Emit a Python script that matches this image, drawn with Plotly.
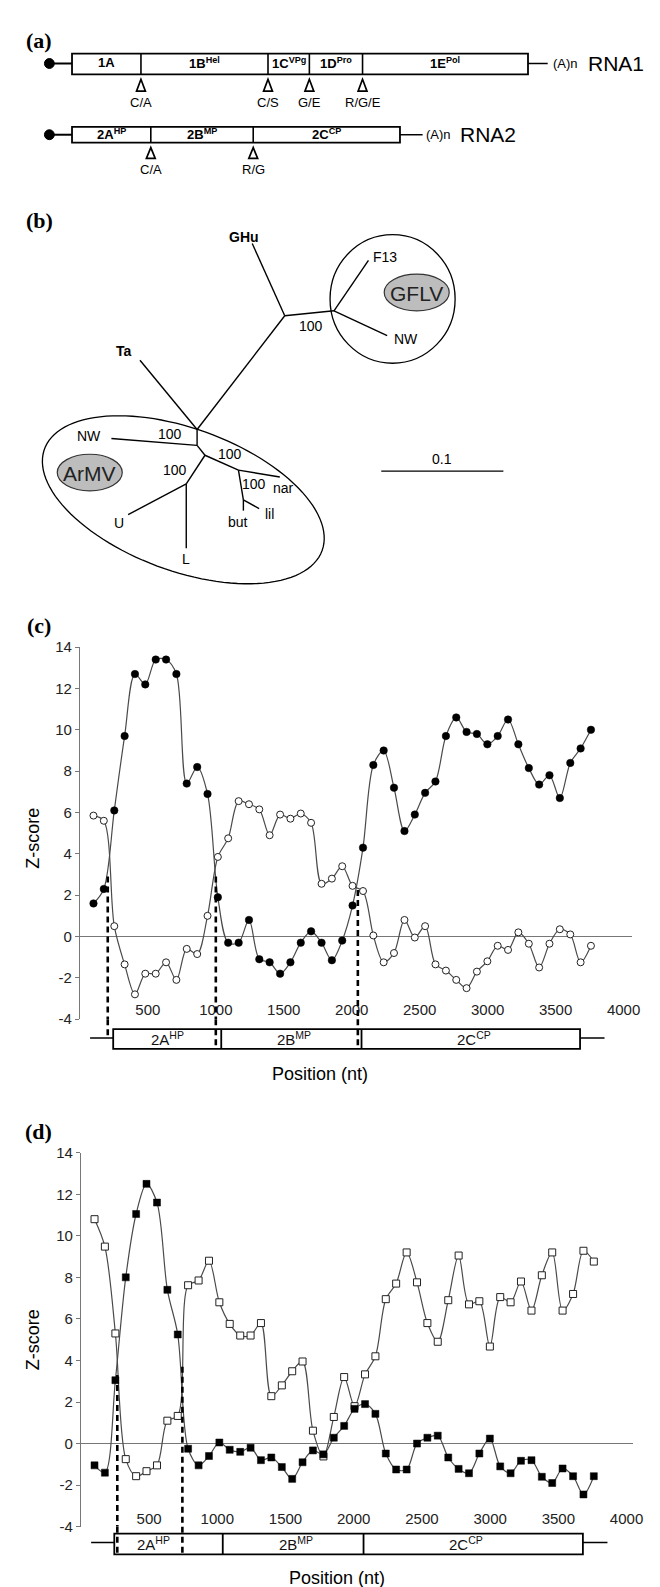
import numpy as np
import plotly.graph_objects as go

W, H = 660, 1587
SANS = "Liberation Sans, Arial, sans-serif"
SERIF = "Liberation Serif, Times New Roman, serif"

# ---------------- data ----------------
positions = [100, 176, 253, 329, 405, 481, 558, 634, 710, 786, 863, 939, 1015,
             1091, 1168, 1244, 1320, 1396, 1473, 1549, 1625, 1701, 1778, 1854,
             1930, 2006, 2083, 2159, 2235, 2311, 2388, 2464, 2540, 2616, 2693,
             2769, 2845, 2921, 2998, 3074, 3150, 3226, 3303, 3379, 3455, 3531,
             3608, 3684, 3760]

c_filled = [1.6, 2.3, 6.1, 9.7, 12.7, 12.2, 13.4, 13.4, 12.7, 7.4, 8.2, 6.9, 1.9,
            -0.3, -0.3, 0.8, -1.1, -1.25, -1.8, -1.25, -0.3, 0.25, -0.3, -1.15,
            -0.2, 1.5, 4.3, 8.3, 9.0, 7.2, 5.1, 5.9, 6.95, 7.5, 9.7, 10.6, 9.9,
            9.8, 9.3, 9.7, 10.5, 9.3, 8.15, 7.35, 7.8, 6.7, 8.4, 9.1, 10.0]
c_open = [5.85, 5.6, 0.5, -1.35, -2.8, -1.8, -1.8, -1.25, -2.1, -0.6, -0.85, 1.0,
          3.85, 4.75, 6.55, 6.4, 6.15, 4.9, 5.9, 5.7, 5.95, 5.5, 2.55, 2.8, 3.4,
          2.45, 2.2, 0.05, -1.25, -0.8, 0.8, -0.05, 0.5, -1.35, -1.65, -2.1, -2.5,
          -1.7, -1.2, -0.45, -0.65, 0.2, -0.35, -1.5, -0.35, 0.35, 0.1, -1.25, -0.45]

d_filled = [-1.05, -1.4, 3.05, 8.0, 11.05, 12.5, 11.6, 7.4, 5.25, -0.25, -1.05,
            -0.6, 0.05, -0.3, -0.4, -0.2, -0.8, -0.67, -1.13, -1.7, -0.9, -0.33,
            -0.52, 0.28, 0.85, 1.67, 1.9, 1.43, -0.48, -1.25, -1.25, 0.0, 0.28,
            0.38, -0.67, -1.22, -1.43, -0.48, 0.24, -1.1, -1.43, -0.83, -0.8,
            -1.6, -1.9, -1.2, -1.57, -2.45, -1.57]
d_open = [10.8, 9.48, 5.3, -0.75, -1.57, -1.33, -1.05, 1.1, 1.33, 7.62, 7.85, 8.8,
          6.8, 5.76, 5.2, 5.2, 5.8, 2.28, 2.8, 3.48, 3.95, 0.62, -0.62, 1.28, 3.2,
          1.8, 3.33, 4.2, 6.95, 7.7, 9.2, 7.76, 5.8, 4.9, 6.9, 9.05, 6.7, 6.85,
          4.67, 7.05, 6.8, 7.8, 6.4, 8.1, 9.2, 6.4, 7.2, 9.28, 8.76]

x_tick_vals = [500, 1000, 1500, 2000, 2500, 3000, 3500, 4000]
x_tick_text = ["500", "1000", "1500", "2000", "2500", "3000", "3500", "4000"]
y_tick_vals = [-4, -2, 0, 2, 4, 6, 8, 10, 12, 14]
y_tick_text = ["-4", "-2", "0", "2", "4", "6", "8", "10", "12", "14"]

# RNA2 genome map (nt)
rna2_bounds = [245, 1040, 2072, 3680]
rna2_utr = [75, 3860]
rna2_names = ["2A<sup>HP</sup>", "2B<sup>MP</sup>", "2C<sup>CP</sup>"]
c_name_pos = [645, 1572, 2900]
d_name_pos = [530, 1580, 2823]

# recombination breakpoints (dashed lines)
c_break_pos = [205, 1000, 2045]
c_break_top = [2.9, 2.9, 2.25]
d_break_pos = [267, 744]
d_break_top = [3.3, 3.7]

# ---------------- helpers ----------------
def px(x):
    return x / W


def py(y):
    return 1 - y / H


shapes = []
annotations = []


def line(x0, y0, x1, y1, w=1.5, color="black", dash=None):
    shapes.append(dict(type="line", xref="paper", yref="paper",
                       x0=px(x0), y0=py(y0), x1=px(x1), y1=py(y1),
                       line=dict(color=color, width=w, dash=dash)))


def rect(x0, y0, x1, y1, w=1.8, fill="white"):
    shapes.append(dict(type="rect", xref="paper", yref="paper",
                       x0=px(x0), y0=py(y0), x1=px(x1), y1=py(y1),
                       line=dict(color="black", width=w), fillcolor=fill))


def oval(x0, y0, x1, y1, w=1.3, fill="rgba(0,0,0,0)", color="black"):
    shapes.append(dict(type="circle", xref="paper", yref="paper",
                       x0=px(x0), y0=py(y0), x1=px(x1), y1=py(y1),
                       line=dict(color=color, width=w), fillcolor=fill))


def text(x, y, s, size=12, family=SANS, xanchor="center", yanchor="middle",
         angle=0, color="black"):
    annotations.append(dict(xref="paper", yref="paper", x=px(x), y=py(y), text=s,
                            showarrow=False, xanchor=xanchor, yanchor=yanchor,
                            textangle=angle,
                            font=dict(size=size, family=family, color=color)))


def triangle(xc, ytop, ybot, hw=4.5):
    path = "M {} {} L {} {} L {} {} Z".format(px(xc), py(ytop), px(xc - hw), py(ybot),
                                              px(xc + hw), py(ybot))
    shapes.append(dict(type="path", xref="paper", yref="paper", path=path,
                       line=dict(color="black", width=1.7), fillcolor="white"))


# ---------------- panel (a): genome organisation ----------------
text(31, 24, "<b>(a)</b>", size=22, family=SERIF)

rna1_bounds_px = [65, 135, 264, 306, 360, 528]
rna1_labels = ["1A", "1B<sup>Hel</sup>", "1C<sup>VPg</sup>", "1D<sup>Pro</sup>", "1E<sup>Pol</sup>"]
rna1_cuts = ["C/A", "C/S", "G/E", "R/G/E"]
y1c, y1t, y1b = 47, 37, 58
line(42, y1c, rna1_bounds_px[0], y1c, w=2)
oval(37, y1c - 5, 47, y1c + 5, w=1, fill="black")
rect(rna1_bounds_px[0], y1t, rna1_bounds_px[-1], y1b)
for xb in rna1_bounds_px[1:-1]:
    line(xb, y1t, xb, y1b, w=1.6)
for i, lab in enumerate(rna1_labels):
    text((rna1_bounds_px[i] + rna1_bounds_px[i + 1]) / 2, 46, "<b>" + lab + "</b>", size=13)
line(rna1_bounds_px[-1], y1c, 548, y1c, w=1.5)
text(566, 47, "(A)n", size=13)
text(587, 47, "RNA1", size=21, xanchor="left")
for xb, lab in zip(rna1_bounds_px[1:-1], rna1_cuts):
    triangle(xb, 63, 75)
    text(xb, 86, lab, size=13)

rna2_bounds_px = [65, 145, 249, 398]
rna2_labels = ["2A<sup>HP</sup>", "2B<sup>MP</sup>", "2C<sup>CP</sup>"]
rna2_cuts = ["C/A", "R/G"]
y2c, y2t, y2b = 119, 111, 127
line(42, y2c, rna2_bounds_px[0], y2c, w=2)
oval(37, y2c - 5, 47, y2c + 5, w=1, fill="black")
rect(rna2_bounds_px[0], y2t, rna2_bounds_px[-1], y2b)
for xb in rna2_bounds_px[1:-1]:
    line(xb, y2t, xb, y2b, w=1.6)
for i, lab in enumerate(rna2_labels):
    text((rna2_bounds_px[i] + rna2_bounds_px[i + 1]) / 2, 118, "<b>" + lab + "</b>", size=13)
line(rna2_bounds_px[-1], y2c, 421, y2c, w=1.5)
text(437, 119, "(A)n", size=13)
text(457, 119, "RNA2", size=21, xanchor="left")
for xb, lab in zip(rna2_bounds_px[1:-1], rna2_cuts):
    triangle(xb, 132, 143)
    text(xb, 154, lab, size=13)

# ---------------- panel (b): tree ----------------
text(32, 206, "<b>(b)</b>", size=22, family=SERIF)
tree_edges = [
    ((248, 229), (281, 302)), ((281, 302), (331, 297)), ((331, 297), (366, 246)),
    ((331, 297), (385, 322)), ((281, 302), (192, 417)), ((134, 347), (192, 417)),
    ((192, 417), (192, 433)), ((105, 426), (192, 433)), ((192, 433), (200, 443)),
    ((200, 443), (234, 458)), ((234, 458), (276, 465)), ((234, 458), (239, 488)),
    ((239, 488), (255, 497)), ((239, 488), (239, 499)), ((200, 443), (181, 472)),
    ((181, 472), (122, 503)), ((181, 472), (181, 537)),
]
for (a, b) in tree_edges:
    line(a[0], a[1], b[0], b[1], w=1.4)

oval(327, 220, 454, 350, w=1.3)
oval(382, 260, 448, 297, w=1.2, fill="#bdbdbd", color="#333")
text(415, 279, "GFLV", size=21, color="#222")
oval(50, 442, 116, 479, w=1.2, fill="#bdbdbd", color="#333")
text(83, 461, "ArMV", size=21, color="#222")

# rotated ellipse around ArMV isolates
cx, cy, ea, eb, th = 178, 488, 150, 72, np.deg2rad(20)
tt = np.linspace(0, 2 * np.pi, 120)
ex = cx + ea * np.cos(tt) * np.cos(th) - eb * np.sin(tt) * np.sin(th)
ey = cy + ea * np.cos(tt) * np.sin(th) + eb * np.sin(tt) * np.cos(th)
path = "M " + " L ".join("{:.5f} {:.5f}".format(px(a), py(b)) for a, b in zip(ex, ey)) + " Z"
shapes.append(dict(type="path", xref="paper", yref="paper", path=path,
                   line=dict(color="black", width=1.3)))

tree_labels = [
    (240, 222, "<b>GHu</b>", 14), (118, 338, "<b>Ta</b>", 14), (383, 243, "F13", 14),
    (404, 325, "NW", 14), (308, 312, "100", 14), (82, 424, "NW", 14),
    (164, 422, "100", 14), (225, 442, "100", 14), (170, 458, "100", 14),
    (250, 472, "100", 14), (280, 476, "nar", 14), (266, 502, "lil", 14),
    (234, 510, "but", 14), (113, 511, "U", 14), (181, 548, "L", 14),
    (441, 447, "0.1", 14),
]
for (x, y, s, fs) in tree_labels:
    text(x, y, s, size=fs)
line(379, 459, 503, 459, w=1.4)

# ---------------- panels (c) and (d): charts ----------------
text(31, 615, "<b>(c)</b>", size=22, family=SERIF)
text(31, 1127, "<b>(d)</b>", size=22, family=SERIF)
text(25, 830, "Z-score", size=18, angle=-90)
text(25, 1337, "Z-score", size=18, angle=-90)
text(317, 1068, "Position (nt)", size=18)
text(334, 1578, "Position (nt)", size=18)

line_style = dict(color="#4a4a4a", width=1.2, shape="spline", smoothing=0.9)
fig = go.Figure()
fig.add_trace(go.Scatter(x=positions, y=c_open, mode="lines+markers", line=line_style,
                         marker=dict(symbol="circle", size=7, color="white",
                                     line=dict(color="#222", width=1)),
                         xaxis="x", yaxis="y"))
fig.add_trace(go.Scatter(x=positions, y=c_filled, mode="lines+markers", line=line_style,
                         marker=dict(symbol="circle", size=7.5, color="black",
                                     line=dict(color="black", width=0.5)),
                         xaxis="x", yaxis="y"))
fig.add_trace(go.Scatter(x=positions, y=d_open, mode="lines+markers", line=line_style,
                         marker=dict(symbol="square", size=7, color="white",
                                     line=dict(color="#222", width=1)),
                         xaxis="x2", yaxis="y2"))
fig.add_trace(go.Scatter(x=positions, y=d_filled, mode="lines+markers", line=line_style,
                         marker=dict(symbol="square", size=7, color="black",
                                     line=dict(color="black", width=0.5)),
                         xaxis="x2", yaxis="y2"))

panels = [
    dict(xr="x", yr="y", xd=(73, 634), yd=(637, 1013), xmax=4065, lab=993,
         bar=(1023, 1043, 1032), names=c_name_pos,
         bpos=c_break_pos, btop=c_break_top, bbot=[1032, 1043, 1043]),
    dict(xr="x2", yr="y2", xd=(74, 635), yd=(1148, 1526), xmax=4050, lab=1507,
         bar=(1533, 1554, 1542), names=d_name_pos,
         bpos=d_break_pos, btop=d_break_top, bbot=[1554, 1554]),
]

layout_axes = {}
for i, p in enumerate(panels):
    xkey = "xaxis" if i == 0 else "xaxis2"
    ykey = "yaxis" if i == 0 else "yaxis2"
    layout_axes[xkey] = dict(domain=[px(p["xd"][0]), px(p["xd"][1])], range=[0, p["xmax"]],
                             anchor="free", position=py(p["lab"]), showline=False,
                             showgrid=False, zeroline=False, ticks="",
                             tickvals=x_tick_vals, ticktext=x_tick_text,
                             tickfont=dict(size=15, family=SANS, color="#222"))
    layout_axes[ykey] = dict(domain=[py(p["yd"][1]), py(p["yd"][0])], range=[-4, 14],
                             anchor=p["xr"], showline=True, linecolor="#777", linewidth=1,
                             ticks="outside", ticklen=4, tickcolor="#777",
                             tickvals=y_tick_vals, ticktext=y_tick_text,
                             showgrid=False, zeroline=True, zerolinecolor="#777",
                             zerolinewidth=1,
                             tickfont=dict(size=15, family=SANS, color="#222"))
    bt, bb, bc = p["bar"]
    shapes.append(dict(type="rect", xref=p["xr"], yref="paper",
                       x0=rna2_bounds[0], x1=rna2_bounds[-1], y0=py(bb), y1=py(bt),
                       line=dict(color="black", width=1.8), fillcolor="rgba(0,0,0,0)"))
    for xb in rna2_bounds[1:-1]:
        shapes.append(dict(type="line", xref=p["xr"], yref="paper", x0=xb, x1=xb,
                           y0=py(bb), y1=py(bt), line=dict(color="black", width=1.8)))
    shapes.append(dict(type="line", xref=p["xr"], yref="paper", x0=rna2_utr[0],
                       x1=rna2_bounds[0], y0=py(bc), y1=py(bc),
                       line=dict(color="black", width=1.5)))
    shapes.append(dict(type="line", xref=p["xr"], yref="paper", x0=rna2_bounds[-1],
                       x1=rna2_utr[1], y0=py(bc), y1=py(bc),
                       line=dict(color="black", width=1.5)))
    for nm, xp in zip(rna2_names, p["names"]):
        annotations.append(dict(xref=p["xr"], yref="paper", x=xp, y=py(bt + 10), text=nm,
                                showarrow=False, xanchor="center", yanchor="middle",
                                font=dict(size=15, family=SANS, color="#111")))
    for xb, top, bot in zip(p["bpos"], p["btop"], p["bbot"]):
        shapes.append(dict(type="line", xref=p["xr"], yref=p["yr"], x0=xb, x1=xb,
                           y0=top, y1=-4, line=dict(color="black", width=2.6, dash="6px,4px")))
        shapes.append(dict(type="line", xref=p["xr"], yref="paper", x0=xb, x1=xb,
                           y0=py(p["yd"][1]), y1=py(bot),
                           line=dict(color="black", width=2.6, dash="6px,4px")))

fig.update_layout(
    width=W, height=H, margin=dict(l=0, r=0, t=0, b=0),
    paper_bgcolor="white", plot_bgcolor="white", showlegend=False,
    shapes=shapes, annotations=annotations, **layout_axes,
)
fig.write_html("out.html")
